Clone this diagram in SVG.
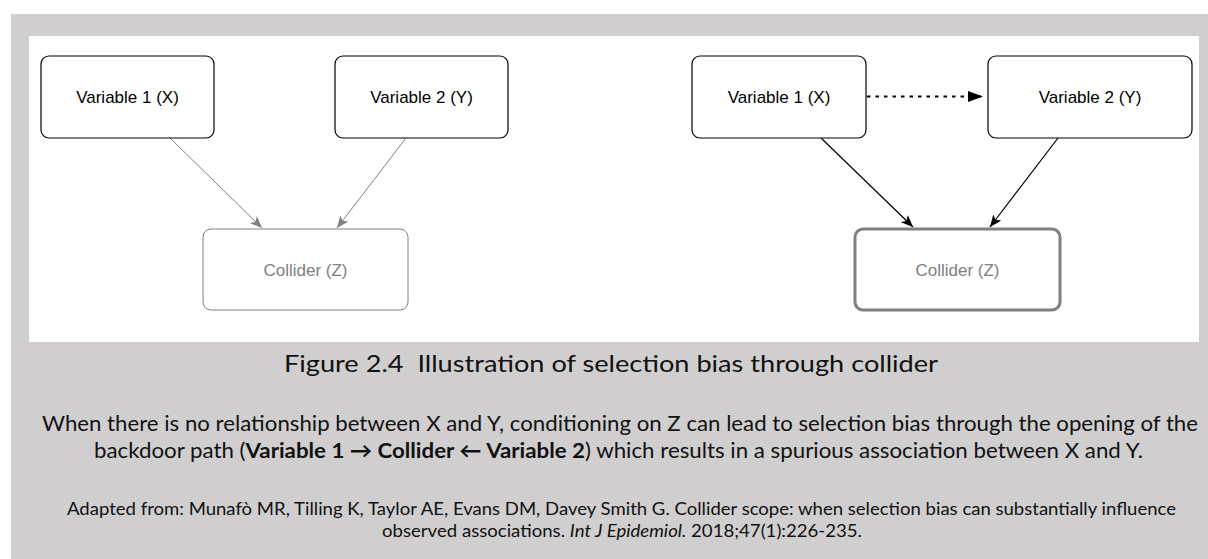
<svg xmlns="http://www.w3.org/2000/svg" width="1208" height="559" viewBox="0 0 1208 559">
<style>
.box{fill:#fff;stroke:#000;stroke-width:1.2}
.lbl{font-family:"Liberation Sans",Arial,sans-serif;font-size:17px;fill:#000;text-anchor:middle}
.glbl{font-family:"Liberation Sans",Arial,sans-serif;font-size:17px;fill:#808080;text-anchor:middle}
.cap{font-family:Lato,"Open Sans",sans-serif;fill:#111}
</style>
<defs>
<marker id="ag" markerUnits="userSpaceOnUse" markerWidth="14" markerHeight="12" refX="12" refY="5" orient="auto"><path d="M0,0 L12,5 L0,10 L3,5 z" fill="#808080"/></marker>
<marker id="ab" markerUnits="userSpaceOnUse" markerWidth="14" markerHeight="12" refX="12" refY="5" orient="auto"><path d="M0,0 L12,5 L0,10 L3,5 z" fill="#000"/></marker>
<marker id="blk" markerUnits="userSpaceOnUse" markerWidth="16" markerHeight="12" refX="15" refY="5.5" orient="auto"><path d="M0,0 L15,5.5 L0,11 z" fill="#000"/></marker>
</defs>
<rect x="11" y="14" width="1197" height="545" fill="#d0cecf"/>
<rect x="29" y="36" width="1170" height="306" fill="#fff"/>
<g id="connectors">
<line x1="170" y1="138" x2="262" y2="228" stroke="#808080" stroke-width="1" marker-end="url(#ag)"/>
<line x1="406" y1="138" x2="337" y2="228" stroke="#808080" stroke-width="1" marker-end="url(#ag)"/>
<line x1="821" y1="138" x2="913" y2="227" stroke="#000" stroke-width="1.2" marker-end="url(#ab)"/>
<line x1="1058" y1="138" x2="990" y2="227" stroke="#000" stroke-width="1.2" marker-end="url(#ab)"/>
<line x1="867" y1="96.5" x2="983" y2="96.5" stroke="#000" stroke-width="2" stroke-dasharray="3.5 5" marker-end="url(#blk)"/>
</g>
<g id="left-x"><rect class="box" x="41" y="56" width="173" height="82" rx="8"/><text class="lbl" x="127.5" y="103">Variable 1 (X)</text></g>
<g id="left-y"><rect class="box" x="335" y="56" width="173" height="82" rx="8"/><text class="lbl" x="421.5" y="103">Variable 2 (Y)</text></g>
<g id="left-z"><rect x="203" y="229" width="205" height="81" rx="8" fill="#fff" stroke="#808080" stroke-width="1"/><text class="glbl" x="305.5" y="275.5">Collider (Z)</text></g>
<g id="right-x"><rect class="box" x="692" y="56" width="174" height="82" rx="8"/><text class="lbl" x="779" y="103">Variable 1 (X)</text></g>
<g id="right-y"><rect class="box" x="988" y="56" width="204" height="82" rx="8"/><text class="lbl" x="1090" y="103">Variable 2 (Y)</text></g>
<g id="right-z"><rect x="855" y="229" width="205" height="81" rx="8" fill="#fff" stroke="#808080" stroke-width="3"/><text class="glbl" x="957.5" y="275.5">Collider (Z)</text></g>
<g id="caption">
<text class="cap" x="284" y="372" font-size="24" textLength="654" lengthAdjust="spacingAndGlyphs">Figure 2.4&#160; Illustration of selection bias through collider</text>
<text class="cap" x="42" y="431" font-size="21" textLength="1156" lengthAdjust="spacingAndGlyphs">When there is no relationship between X and Y, conditioning on Z can lead to selection bias through the opening of the</text>
<text class="cap" x="94" y="458" font-size="21" textLength="1049" lengthAdjust="spacingAndGlyphs">backdoor path (<tspan font-weight="bold">Variable 1 → Collider ← Variable 2</tspan>) which results in a spurious association between X and Y.</text>
<text class="cap" x="67" y="515" font-size="17.5" textLength="1109" lengthAdjust="spacingAndGlyphs">Adapted from: Munafò MR, Tilling K, Taylor AE, Evans DM, Davey Smith G. Collider scope: when selection bias can substantially influence</text>
<text class="cap" x="382" y="537" font-size="17.5" textLength="480" lengthAdjust="spacingAndGlyphs">observed associations. <tspan font-style="italic">Int J Epidemiol.</tspan> 2018;47(1):226-235.</text>
</g>
</svg>
